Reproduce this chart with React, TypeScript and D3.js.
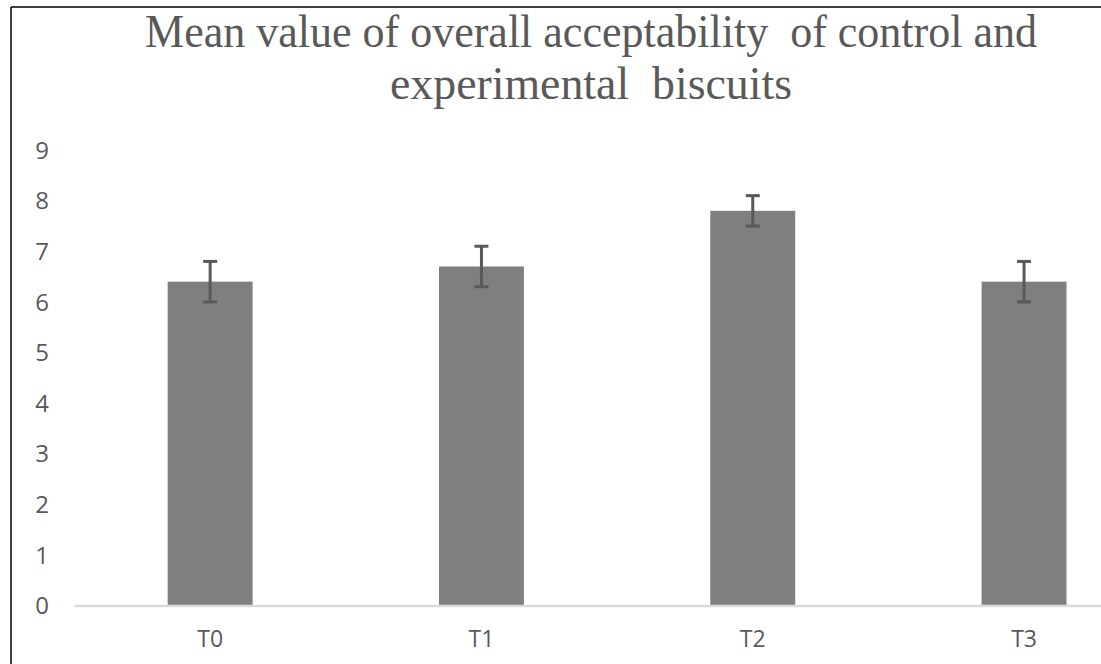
import React from "react";
import * as d3 from "d3";

const categories = ["T0", "T1", "T2", "T3"];
const means = [6.4, 6.7, 7.8, 6.4];
const errors = [0.4, 0.4, 0.3, 0.4];
const yTicks = [0, 1, 2, 3, 4, 5, 6, 7, 8, 9];
const titleLines = [
  "Mean value of overall acceptability  of control and",
  "experimental  biscuits",
];
const titleWidths = [892, 402];

export default function App() {
  const W = 1101;
  const H = 664;
  const x = d3
    .scaleBand<string>()
    .domain(categories)
    .range([74.5, 1159.7])
    .paddingInner(0.687)
    .paddingOuter(0.3435);
  const y = d3.scaleLinear().domain([0, 9]).range([605.5, 150.1]);
  const bw = x.bandwidth();
  const capW = 14;
  return (
    <svg
      width={W}
      height={H}
      style={{ position: "absolute", left: 0, top: 0, background: "#fff" }}
    >
      <rect x={0} y={0} width={W} height={H} fill="#fff" />
      <line x1={11} y1={7} x2={W + 5} y2={7} stroke="#000" strokeWidth={1.5} />
      <line x1={11} y1={7} x2={11} y2={H + 5} stroke="#000" strokeWidth={1.5} />
      {titleLines.map((t, i) => (
        <text
          key={i}
          x={591}
          y={47 + i * 52}
          textAnchor="middle"
          fontFamily="'Liberation Serif', 'Times New Roman', serif"
          fontSize={46}
          fill="#595959"
          textLength={titleWidths[i]}
          lengthAdjust="spacingAndGlyphs"
          style={{ whiteSpace: "pre" }}
        >
          {t}
        </text>
      ))}
      {yTicks.map((t) => (
        <text
          key={t}
          x={49}
          y={y(t)}
          dy="0.36em"
          textAnchor="end"
          fontFamily="'Open Sans', sans-serif"
          fontSize={24}
          fill="#595959"
        >
          {t}
        </text>
      ))}
      {categories.map((c, i) => (
        <rect
          key={c}
          x={x(c)!}
          y={y(means[i])}
          width={bw}
          height={y(0) - y(means[i])}
          fill="#7f7f7f"
        />
      ))}
      <line x1={74.5} x2={W + 5} y1={y(0) + 0.5} y2={y(0) + 0.5} stroke="#d9d9d9" strokeWidth={2.5} />
      {categories.map((c, i) => {
        const cx = x(c)! + bw / 2;
        const top = y(means[i] + errors[i]);
        const bot = y(means[i] - errors[i]);
        return (
          <g key={c} stroke="#595959" strokeWidth={3}>
            <line x1={cx} x2={cx} y1={top} y2={bot} />
            <line x1={cx - capW / 2} x2={cx + capW / 2} y1={top} y2={top} />
            <line x1={cx - capW / 2} x2={cx + capW / 2} y1={bot} y2={bot} />
          </g>
        );
      })}
      {categories.map((c) => (
        <text
          key={c}
          x={x(c)! + bw / 2}
          y={647}
          textAnchor="middle"
          fontFamily="'Open Sans', sans-serif"
          fontSize={23}
          fill="#595959"
        >
          {c}
        </text>
      ))}
    </svg>
  );
}
